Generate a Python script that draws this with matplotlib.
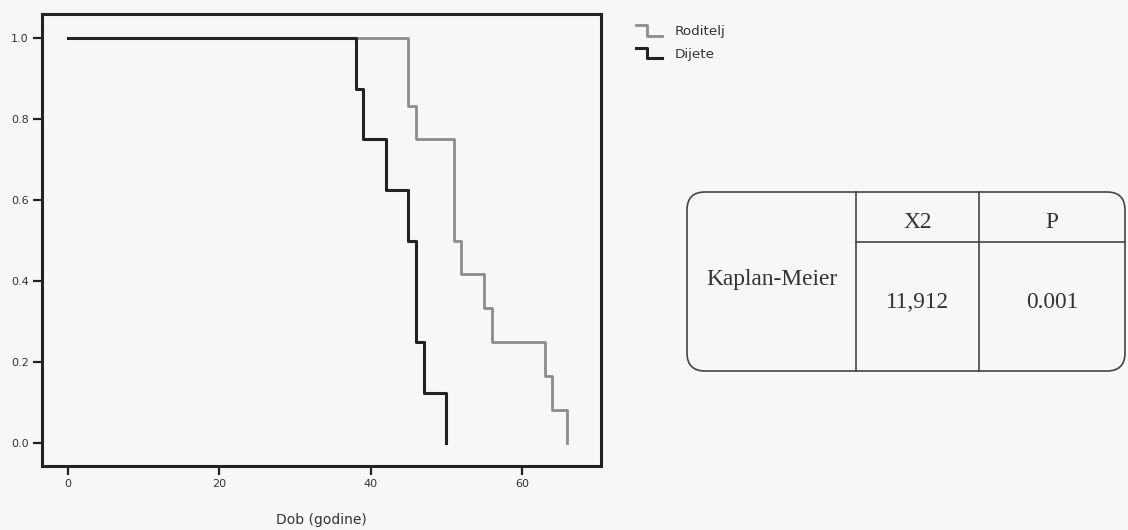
import matplotlib
matplotlib.use('Agg')
import matplotlib.pyplot as plt
from matplotlib.lines import Line2D
from matplotlib.legend_handler import HandlerBase
from matplotlib.patches import FancyBboxPatch

# Kaplan-Meier survival curves (age in years)
t_roditelj = [0, 45, 46, 51, 52, 55, 56, 63, 64, 66]
s_roditelj = [1.0, 0.833, 0.75, 0.5, 0.417, 0.333, 0.25, 0.167, 0.083, 0.0]
t_dijete = [0, 38, 39, 42, 45, 46, 47, 50]
s_dijete = [1.0, 0.875, 0.75, 0.625, 0.5, 0.25, 0.125, 0.0]

x_ticks = [0, 20, 40, 60]
y_ticks = [0.0, 0.2, 0.4, 0.6, 0.8, 1.0]

# test table
tab_method = 'Kaplan-Meier'
tab_headers = ['X2', 'P']
tab_values = ['11,912', '0.001']

bg = '#f7f7f7'
gray = '#8c8c8c'
dark = '#222222'


class StepHandler(HandlerBase):
    # draws the little step symbol used in the SPSS legend
    def create_artists(self, legend, orig_handle, xdescent, ydescent,
                       width, height, fontsize, trans):
        x0 = -xdescent
        y0 = -ydescent
        xs = [x0, x0 + 0.45 * width, x0 + 0.45 * width, x0 + width]
        ys = [y0 + 1.05 * height, y0 + 1.05 * height, y0 - 0.05 * height, y0 - 0.05 * height]
        ln = Line2D(xs, ys, color=orig_handle.get_color(),
                    linewidth=orig_handle.get_linewidth())
        ln.set_transform(trans)
        return [ln]


fig = plt.figure(figsize=(11.28, 5.30), dpi=100, facecolor=bg)
ax = fig.add_axes([0.037, 0.121, 0.496, 0.853], facecolor=bg)

l1, = ax.step(t_roditelj, s_roditelj, where='post', color=gray, linewidth=2.0, zorder=3)
l2, = ax.step(t_dijete, s_dijete, where='post', color=dark, linewidth=2.2, zorder=4)

ax.set_xlim(-3.5, 70.5)
ax.set_ylim(-0.056, 1.06)
ax.set_xticks(x_ticks)
ax.set_yticks(y_ticks)
ax.set_xticklabels([str(v) for v in x_ticks])
ax.set_yticklabels(['%.1f' % v for v in y_ticks])
for s in ax.spines.values():
    s.set_linewidth(2.2)
    s.set_color(dark)
ax.tick_params(axis='both', direction='out', length=6.5, width=1.6,
               color=dark, labelsize=8, labelcolor='#333333', pad=3)
ax.set_xlabel('Dob (godine)', fontsize=10, color='#333333', labelpad=17)

leg = fig.legend([l1, l2], ['Roditelj', 'Dijete'],
                 handler_map={Line2D: StepHandler()},
                 loc='upper left', bbox_to_anchor=(0.553, 0.975),
                 frameon=False, fontsize=9.7, handlelength=1.9,
                 handletextpad=1.0, labelspacing=0.7)
for txt in leg.get_texts():
    txt.set_color('#333333')

# rounded table box on the right (figure fraction coords)
W, H = 1128.0, 530.0
bx0, bx1, by0, by1 = 687 / W, 1125 / W, 1 - 371 / H, 1 - 192 / H
box = FancyBboxPatch((bx0, by0), bx1 - bx0, by1 - by0,
                     boxstyle='round,pad=0,rounding_size=0.016',
                     transform=fig.transFigure, facecolor='none',
                     edgecolor='#444444', linewidth=1.2, mutation_aspect=W / H)
fig.patches.append(box)
c1, c2 = 856 / W, 979 / W
hy = 1 - 242 / H
fig.add_artist(Line2D([c1, c1], [by0, by1], transform=fig.transFigure, color='#444444', lw=1.2))
fig.add_artist(Line2D([c2, c2], [by0, by1], transform=fig.transFigure, color='#444444', lw=1.2))
fig.add_artist(Line2D([c1, bx1], [hy, hy], transform=fig.transFigure, color='#444444', lw=1.2))

serif = 'Liberation Serif'
fig.text((bx0 + c1) / 2, 1 - 280 / H, tab_method, ha='center', va='center',
         fontsize=16.8, family=serif, color='#333333')
col_centres = [(c1 + c2) / 2, (c2 + bx1) / 2]
for xc, head, val in zip(col_centres, tab_headers, tab_values):
    fig.text(xc, 1 - 222 / H, head, ha='center', va='center', fontsize=16.8,
             family=serif, color='#333333')
    fig.text(xc, 1 - 303 / H, val, ha='center', va='center', fontsize=16.8,
             family=serif, color='#333333')

fig.savefig('out.png', dpi=100, facecolor=bg)
